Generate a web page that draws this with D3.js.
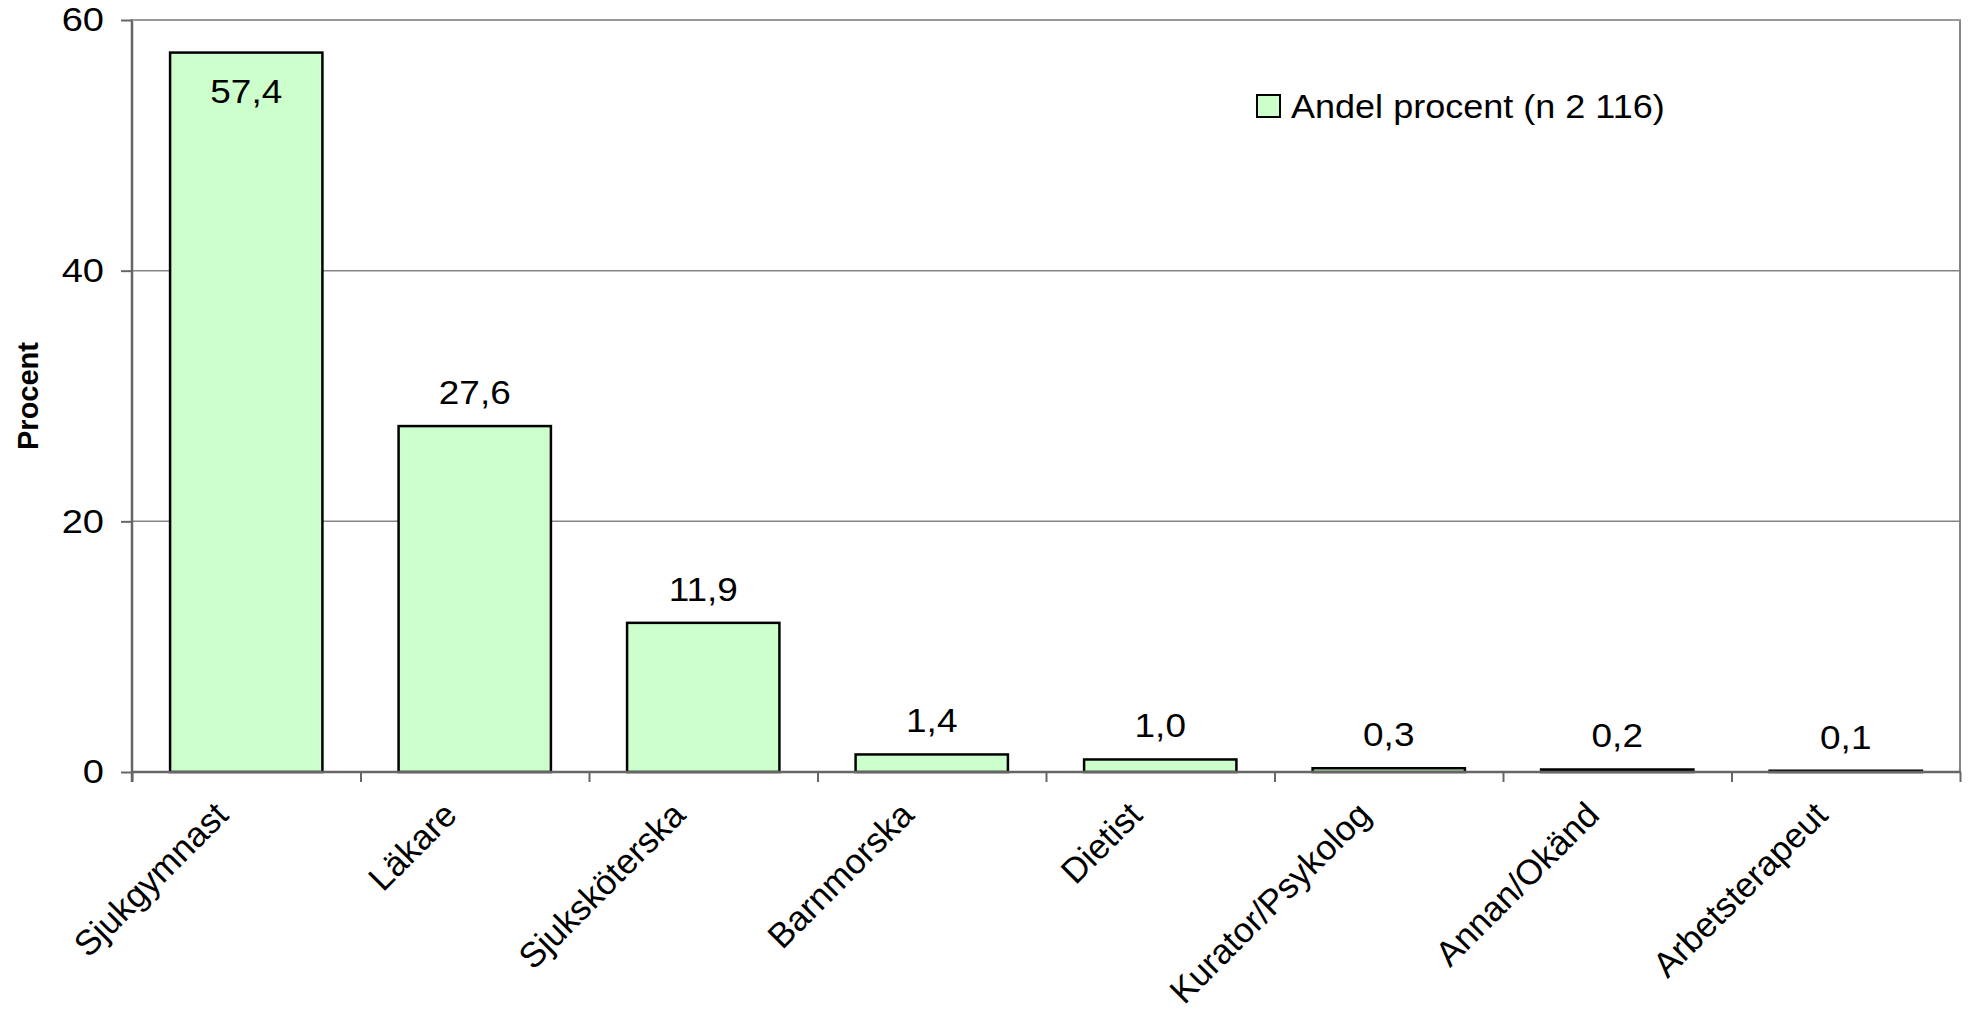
<!DOCTYPE html>
<html>
<head>
<meta charset="utf-8">
<script src="https://cdn.jsdelivr.net/npm/d3@7"></script>
<style>
  body { margin: 0; background: #fff; }
  text { font-family: "Liberation Sans", Arial, sans-serif; fill: #000; }
</style>
</head>
<body>
<div id="chart"></div>
<script>
// categories and values (percent)
const categories = ["Sjukgymnast", "Läkare", "Sjuksköterska", "Barnmorska", "Dietist", "Kurator/Psykolog", "Annan/Okänd", "Arbetsterapeut"];
const values = [57.4, 27.6, 11.9, 1.4, 1.0, 0.3, 0.2, 0.1];
const yTicks = [0, 20, 40, 60];
const legendLabel = "Andel procent (n 2 116)";
const yTitle = "Procent";

// set the dimensions of the plot area
const W = 1968, H = 1009;
const plot = {left: 132, right: 1960, top: 20, bottom: 772};
const SX = 1.12; // text in the original is a bit wider than plain Arial

const svg = d3.select("#chart")
    .append("svg")
    .attr("width", W)
    .attr("height", H);

const scaleY = d3.scaleLinear()
    .domain([0, 60])
    .range([plot.bottom, plot.top]);

const scaleX = d3.scaleBand()
    .domain(categories)
    .range([plot.left, plot.right])
    .paddingInner(1 / 3)
    .paddingOuter(1 / 6);

// boundary ticks between categories
const scaleEdge = d3.scaleLinear()
    .domain([0, categories.length])
    .range([plot.left, plot.right]);

// gridlines
svg.append("g")
    .selectAll("line")
    .data(yTicks.filter(d => d > 0))
    .join("line")
    .attr("x1", plot.left)
    .attr("x2", plot.right)
    .attr("y1", d => scaleY(d))
    .attr("y2", d => scaleY(d))
    .attr("stroke", "#858585")
    .attr("stroke-width", 1.5);

// right border of plot area
svg.append("line")
    .attr("x1", plot.right).attr("x2", plot.right)
    .attr("y1", plot.top).attr("y2", plot.bottom)
    .attr("stroke", "#858585")
    .attr("stroke-width", 2);

// bars
svg.append("g")
    .selectAll("rect")
    .data(values)
    .join("rect")
    .attr("x", (d, i) => scaleX(categories[i]))
    .attr("width", scaleX.bandwidth())
    .attr("y", d => scaleY(d))
    .attr("height", d => plot.bottom - scaleY(d))
    .attr("fill", "#ccffcc")
    .attr("stroke", "#000")
    .attr("stroke-width", 2.5);

// value labels
const fmt = d => d.toFixed(1).replace(".", ",");
svg.append("g")
    .selectAll("text")
    .data(values)
    .join("text")
    .attr("transform", (d, i) => {
        const x = scaleX(categories[i]) + scaleX.bandwidth() / 2;
        const top = scaleY(d);
        const y = top - 22 - 24 < plot.top ? top + 50 : top - 22;
        return `translate(${x},${y}) scale(${SX},1)`;
    })
    .attr("text-anchor", "middle")
    .style("font-size", "33px")
    .text(fmt);

// y axis
const axisY = d3.axisLeft(scaleY)
    .tickValues(yTicks)
    .tickSize(11)
    .tickPadding(17);

const gy = svg.append("g")
    .attr("transform", `translate(${plot.left},0)`)
    .call(axisY);
gy.select(".domain").remove();
gy.selectAll(".tick line").attr("stroke", "#666").attr("stroke-width", 2);
gy.selectAll(".tick text")
    .attr("x", -28 / SX)
    .attr("transform", `scale(${SX},1)`)
    .style("font-size", "34px")
    .style("font-family", "Liberation Sans, Arial, sans-serif");

// x axis (ticks at category edges)
const axisX = d3.axisBottom(scaleEdge)
    .tickValues(d3.range(categories.length + 1))
    .tickSize(10)
    .tickFormat("");

const gx = svg.append("g")
    .attr("transform", `translate(0,${plot.bottom})`)
    .call(axisX);
gx.select(".domain").remove();
gx.selectAll(".tick line").attr("stroke", "#666").attr("stroke-width", 2);

// axis lines
svg.append("line")
    .attr("x1", plot.left).attr("x2", plot.right + 1)
    .attr("y1", plot.bottom).attr("y2", plot.bottom)
    .attr("stroke", "#666").attr("stroke-width", 2.5);
svg.append("line")
    .attr("x1", plot.left).attr("x2", plot.left)
    .attr("y1", plot.top - 1).attr("y2", plot.bottom + 10)
    .attr("stroke", "#666").attr("stroke-width", 2.5);
svg.append("line")
    .attr("x1", plot.left).attr("x2", plot.right + 1)
    .attr("y1", plot.top).attr("y2", plot.top)
    .attr("stroke", "#999").attr("stroke-width", 2);

// category labels, rotated
svg.append("g")
    .selectAll("text")
    .data(categories)
    .join("text")
    .attr("transform", d => `translate(${scaleX(d) + scaleX.bandwidth() / 2 - 16},${plot.bottom + 45}) rotate(-45)`)
    .attr("text-anchor", "end")
    .style("font-size", "35px")
    .text(d => d);

// y axis title
svg.append("text")
    .attr("transform", `translate(38,${(plot.top + plot.bottom) / 2}) rotate(-90)`)
    .attr("text-anchor", "middle")
    .style("font-size", "29px")
    .style("font-weight", "bold")
    .text(yTitle);

// legend
const legend = svg.append("g").attr("transform", "translate(1257,95)");
legend.append("rect")
    .attr("width", 23)
    .attr("height", 22)
    .attr("fill", "#ccffcc")
    .attr("stroke", "#000")
    .attr("stroke-width", 2);
legend.append("text")
    .attr("transform", "translate(34,23) scale(1.06,1)")
    .style("font-size", "34px")
    .text(legendLabel);
</script>
</body>
</html>
